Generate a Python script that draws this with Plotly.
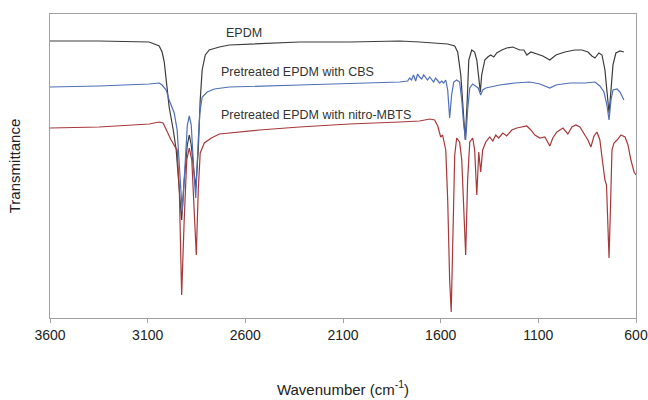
import plotly.graph_objects as go

# ---------------- data (wavenumber in cm-1, transmittance in a.u.) ----------------
epdm_wn = [3600, 3349, 3092, 3041, 3026, 3015, 3005, 2990, 2969, 2954, 2938, 2926, 2913, 2897, 2887,
           2877, 2864, 2854, 2841, 2831, 2821, 2805, 2785, 2733, 2682, 2528, 2323, 2067, 1810, 1708,
           1656, 1605, 1564, 1528, 1513, 1497, 1487, 1474, 1464, 1456, 1441, 1426, 1415, 1405, 1397,
           1390, 1374, 1359, 1344, 1328, 1313, 1287, 1262, 1231, 1195, 1174, 1159, 1138, 1108, 1077,
           1041, 1010, 964, 913, 877, 846, 826, 810, 790, 774, 759, 749, 738, 728, 718, 703, 682, 662]
epdm_t = [277, 277, 276, 272, 266, 256, 238, 211, 188, 168, 128, 98, 138, 173, 183,
          173, 148, 130, 168, 218, 248, 263, 268, 271, 273, 274, 276, 276, 277, 276,
          275.5, 275, 274, 272, 266, 243, 213, 178, 218, 258, 268, 266, 258, 238, 226,
          243, 258, 261, 263, 261, 265, 268, 270, 271, 268, 268, 263, 266, 264, 262,
          258, 263, 266, 268, 268, 266, 262, 260, 265, 263, 248, 223, 205, 228, 253, 265, 267, 266]

cbs_wn = [3600, 3349, 3092, 3041, 3026, 3005, 2990, 2964, 2949, 2936, 2923, 2910, 2897, 2887, 2877,
          2864, 2854, 2841, 2833, 2821, 2795, 2759, 2682, 2323, 2067, 1810, 1769, 1759, 1749, 1739,
          1728, 1718, 1708, 1697, 1687, 1677, 1667, 1656, 1646, 1636, 1626, 1615, 1605, 1595, 1585,
          1574, 1564, 1554, 1544, 1533, 1518, 1503, 1492, 1482, 1472, 1462, 1451, 1436, 1421, 1408,
          1395, 1385, 1369, 1349, 1298, 1221, 1144, 1092, 1041, 1010, 938, 862, 810, 785, 764,
          749, 738, 728, 718, 697, 682, 672, 662]
cbs_t = [231, 232, 234, 235, 233, 228, 218, 205, 188, 148, 106, 148, 193, 202, 193,
         148, 120, 178, 205, 221, 226, 229, 231, 233, 234.5, 236, 237, 240, 238, 243,
         237, 244, 241, 239, 243, 240, 238, 241, 239, 236, 240, 237, 235, 237, 235,
         238, 228, 200, 223, 236, 238, 236, 218, 193, 178, 208, 230, 234, 232, 230,
         223, 228, 230, 231, 233, 235, 236, 234, 230, 233, 235, 235, 236, 232, 226,
         213, 198, 218, 228, 229, 226, 222, 218]

mbts_wn = [3600, 3349, 3092, 3041, 3021, 3005, 2980, 2959, 2949, 2938, 2926, 2913, 2900, 2887, 2874,
           2862, 2851, 2841, 2831, 2810, 2774, 2733, 2528, 2323, 2067, 1810, 1708, 1656, 1631, 1615,
           1600, 1590, 1574, 1564, 1554, 1546, 1538, 1528, 1518, 1503, 1492, 1482, 1472, 1462, 1451,
           1436, 1426, 1415, 1405, 1395, 1385, 1369, 1349, 1333, 1318, 1303, 1282, 1262, 1236, 1210,
           1185, 1159, 1138, 1118, 1092, 1067, 1041, 1026, 1005, 974, 949, 928, 908, 887, 862,
           846, 831, 815, 800, 785, 769, 759, 751, 744, 738, 731, 723, 713, 697, 677,
           656, 641, 626, 610, 600]
mbts_t = [190, 191, 194, 196, 195, 188, 178, 171, 168, 128, 23, 98, 158, 170, 158,
          108, 63, 128, 165, 175, 180, 184, 188, 191, 194, 196, 197, 199, 198, 192,
          181, 183, 168, 118, 38, 6, 68, 163, 180, 176, 158, 108, 63, 138, 176,
          180, 168, 123, 166, 146, 168, 176, 181, 177, 183, 180, 185, 182, 188, 190,
          191, 192, 188, 183, 180, 181, 172, 180, 186, 190, 184, 191, 193, 191, 183,
          178, 171, 182, 186, 178, 153, 138, 133, 88, 60, 108, 168, 175, 178, 183,
          181, 173, 158, 146, 143]

tick_vals = [3600, 3100, 2600, 2100, 1600, 1100, 600]
tick_text = ["3600", "3100", "2600", "2100", "1600", "1100", "600"]

labels = ["EPDM", "Pretreated EPDM with CBS", "Pretreated EPDM with nitro-MBTS"]
label_wn = [2708, 2733, 2733]
label_t = [285, 246, 203]

FONT = "Liberation Sans, Arial, sans-serif"

fig = go.Figure()
fig.add_trace(go.Scatter(x=epdm_wn, y=epdm_t, mode="lines", name=labels[0],
                         line=dict(color="#3c3c3c", width=1.2)))
fig.add_trace(go.Scatter(x=cbs_wn, y=cbs_t, mode="lines", name=labels[1],
                         line=dict(color="#4f6fb8", width=1.2)))
fig.add_trace(go.Scatter(x=mbts_wn, y=mbts_t, mode="lines", name=labels[2],
                         line=dict(color="#a8383a", width=1.2)))

for txt, xw, yt in zip(labels, label_wn, label_t):
    fig.add_annotation(x=xw, y=yt, text=txt, showarrow=False, xanchor="left", yanchor="middle",
                       font=dict(family=FONT, size=12.5, color="#333333"))

fig.update_layout(
    width=648, height=400,
    margin=dict(l=50, r=12, t=14, b=82, autoexpand=False),
    paper_bgcolor="white", plot_bgcolor="white",
    showlegend=False,
    font=dict(family=FONT, color="#222222"),
    xaxis=dict(range=[3600, 600], tickvals=tick_vals, ticktext=tick_text, automargin=False,
               showgrid=False, zeroline=False, showline=True, mirror=True,
               linecolor="#a0a0a0", linewidth=1, ticks="outside", ticklen=4,
               tickcolor="#a0a0a0", tickfont=dict(size=14, family=FONT, color="#222222"),
               title=dict(text="Wavenumber (cm<sup>-1</sup>)", standoff=42,
                          font=dict(size=15, family=FONT, color="#222222"))),
    yaxis=dict(range=[0, 304], showticklabels=False, ticks="", showgrid=False, zeroline=False,
               automargin=False,
               showline=True, mirror=True, linecolor="#a0a0a0", linewidth=1,
               title=dict(text="Transmittance", standoff=24,
                          font=dict(size=15, family=FONT, color="#222222"))),
)

fig.write_html("out.html", config={"displayModeBar": False},
               post_script="document.body.style.margin='0';document.body.style.padding='0';")
